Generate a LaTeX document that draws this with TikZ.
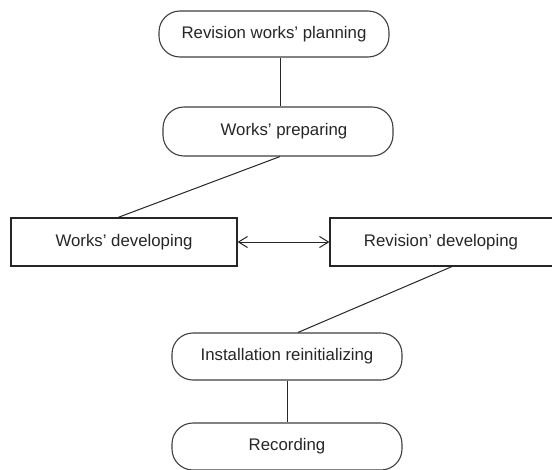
\documentclass[tikz,border=0pt]{standalone}
\usepackage{fontspec}
\setmainfont{Liberation Sans}
\usetikzlibrary{arrows.meta,calc}
\begin{document}
\begin{tikzpicture}[x=1pt,y=-1pt,
  every node/.style={font=\fontsize{16.8}{20}\selectfont, text=black!85},
  stadium/.style={draw=black!75, line width=1.1pt, rounded corners=21pt, minimum width=230pt, inner sep=0pt},
  boxnode/.style={draw=black!85, line width=1.1pt, minimum width=226pt, minimum height=48pt, inner sep=0pt},
  link/.style={draw=black!85, line width=1pt}
]
\useasboundingbox[fill=white] (0,0) rectangle (552,469);
\node[stadium, minimum height=46pt] (n1) at (274,34) {Revision works’ planning};
\node[stadium, minimum height=49pt] (n2) at (278,131.5) {\hspace*{12pt}Works’ preparing};
\node[boxnode] (n3) at (124,242) {Works’ developing};
\node[boxnode] (n4) at (443,242) {\hspace*{-4pt}Revision’ developing};
\node[stadium, minimum height=47pt] (n5) at (287,356.5) {Installation reinitializing};
\node[stadium, minimum height=47pt] (n6) at (287,446.5) {Recording};
\draw[link] ($(n1.south)+(6,0)$) -- ($(n2.north)+(2,0)$);
\draw[link] ($(n2.south)+(2,0)$) -- ($(n3.north)+(-6,0)$);
\draw[link, {Straight Barb[length=9pt,width=11pt]}-{Straight Barb[length=9pt,width=11pt]}] (n3.east) -- (n4.west);
\draw[link] ($(n4.south)+(9,0)$) -- ($(n5.north)+(11,0)$);
\draw[link] (n5.south) -- (n6.north);
\end{tikzpicture}
\end{document}
